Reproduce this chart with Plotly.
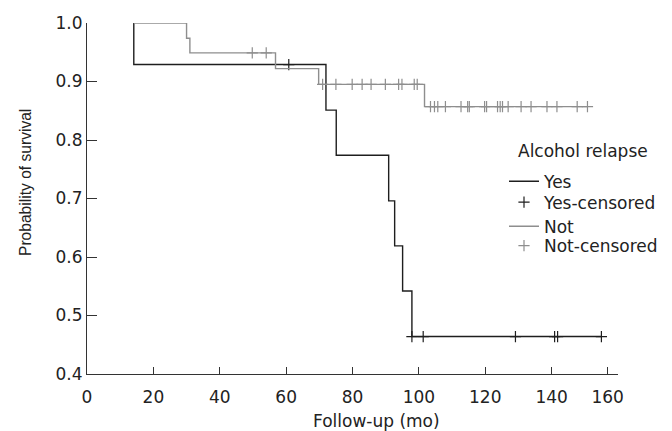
import numpy as np
import plotly.graph_objects as go

# ---- data ----
start_time = 14.1

yes_event_times = [14.1, 72.0, 75.1, 90.9, 92.7, 95.1, 97.9]
yes_surv = [0.929, 0.851, 0.774, 0.696, 0.619, 0.542, 0.464]
yes_end = 155.0
yes_cens_times = [60.8, 97.9, 101.3, 129.1, 140.9, 141.8, 155.0]

not_event_times = [30.0, 31.0, 56.8, 69.8, 101.7]
not_surv = [0.974, 0.949, 0.922, 0.895, 0.857]
not_end = 150.8
not_cens_times = [49.8, 54.0, 71.0, 75.0, 79.9, 82.9, 85.6, 89.9, 93.9, 94.9,
                  98.6, 99.5, 103.5, 104.7, 105.7, 108.0, 112.7, 114.7, 115.2,
                  119.8, 120.4, 123.7, 124.5, 125.2, 126.9, 130.8, 133.8, 138.6,
                  141.6, 147.7, 150.8]

x_tick_vals = [0, 20, 40, 60, 80, 100, 120, 140, 156.9]
x_tick_text = ["0", "20", "40", "60", "80", "100", "120", "140", "160"]

legend_labels = ["Yes", "Yes-censored", "Not", "Not-censored"]
legend_title = "Alcohol relapse"

BLACK = "#1e1e1e"
GRAY = "#8e8e8e"
FONT = "DejaVu Sans, sans-serif"
FONT_Y = "Liberation Sans, Arial, sans-serif"
FS = 17


def step_xy(t0, times, surv, t_end):
    xs = [t0] + list(times) + [t_end]
    ys = [1.0] + list(surv) + [surv[-1]]
    return xs, ys


def surv_at(times, surv, t):
    idx = np.searchsorted(np.array(times), np.array(t), side="right") - 1
    s = np.array([1.0] + list(surv))
    return s[idx + 1]


yx, yy = step_xy(start_time, yes_event_times, yes_surv, yes_end)
nx, ny = step_xy(start_time, not_event_times, not_surv, not_end)

fig = go.Figure()
fig.add_trace(go.Scatter(x=yx, y=yy, mode="lines", line_shape="hv",
                         line=dict(color=BLACK, width=1.4), name=legend_labels[0],
                         cliponaxis=False, legend="legend"))
fig.add_trace(go.Scatter(x=yes_cens_times,
                         y=surv_at(yes_event_times, yes_surv, yes_cens_times),
                         mode="markers", name=legend_labels[1],
                         marker=dict(symbol="cross-thin", size=8,
                                     line=dict(color=BLACK, width=1.2)),
                         cliponaxis=False, legend="legend2"))
fig.add_trace(go.Scatter(x=nx, y=ny, mode="lines", line_shape="hv",
                         line=dict(color=GRAY, width=1.4), name=legend_labels[2],
                         cliponaxis=False, legend="legend3"))
fig.add_trace(go.Scatter(x=not_cens_times,
                         y=surv_at(not_event_times, not_surv, not_cens_times),
                         mode="markers", name=legend_labels[3],
                         marker=dict(symbol="cross-thin", size=8,
                                     line=dict(color=GRAY, width=1.2)),
                         cliponaxis=False, legend="legend4"))

L, R, T, B = 87, 54, 23, 57
W, H = 672, 431
pw, ph = W - L - R, H - T - B


def px_x(p):
    return (p - L) / pw


def px_y(p):
    return (H - B - p) / ph


def leg(ypx):
    return dict(x=px_x(504), y=px_y(ypx), xanchor="left", yanchor="middle",
                font=dict(family=FONT, size=FS, color="#222"),
                bgcolor="rgba(0,0,0,0)", borderwidth=0)


fig.update_layout(
    width=W, height=H,
    margin=dict(l=L, r=R, t=T, b=B, autoexpand=False),
    paper_bgcolor="white", plot_bgcolor="white",
    font=dict(family=FONT, size=FS, color="#222"),
    showlegend=True,
    legend=leg(181.7), legend2=leg(202.5), legend3=leg(226.7), legend4=leg(246),
    xaxis=dict(range=[0, 160], tickvals=x_tick_vals, ticktext=x_tick_text,
               ticks="inside", ticklen=7, tickcolor="#333", tickwidth=1,
               showline=True, linecolor="#333", linewidth=1,
               showgrid=False, zeroline=False, tickfont=dict(size=FS),
               ticklabelstandoff=8),
    yaxis=dict(range=[0.4, 1.0], dtick=0.1, tickformat=".1f",
               ticks="inside", ticklen=10, tickcolor="#333", tickwidth=1,
               showline=True, linecolor="#333", linewidth=1,
               showgrid=False, zeroline=False, tickfont=dict(size=FS)),
    annotations=[
        dict(text="Follow-up (mo)", xref="paper", yref="paper",
             x=px_x(376), y=px_y(421), xanchor="center", yanchor="middle",
             showarrow=False, font=dict(size=FS)),
        dict(text="Probability of survival", xref="paper", yref="paper",
             x=px_x(25), y=px_y(183), xanchor="center", yanchor="middle",
             textangle=-90, showarrow=False,
             font=dict(family=FONT_Y, size=15.6)),
        dict(text=legend_title, xref="paper", yref="paper",
             x=px_x(516), y=px_y(150.7), xanchor="left", yanchor="middle",
             showarrow=False, font=dict(size=FS)),
    ],
)

fig.write_html("out.html")
